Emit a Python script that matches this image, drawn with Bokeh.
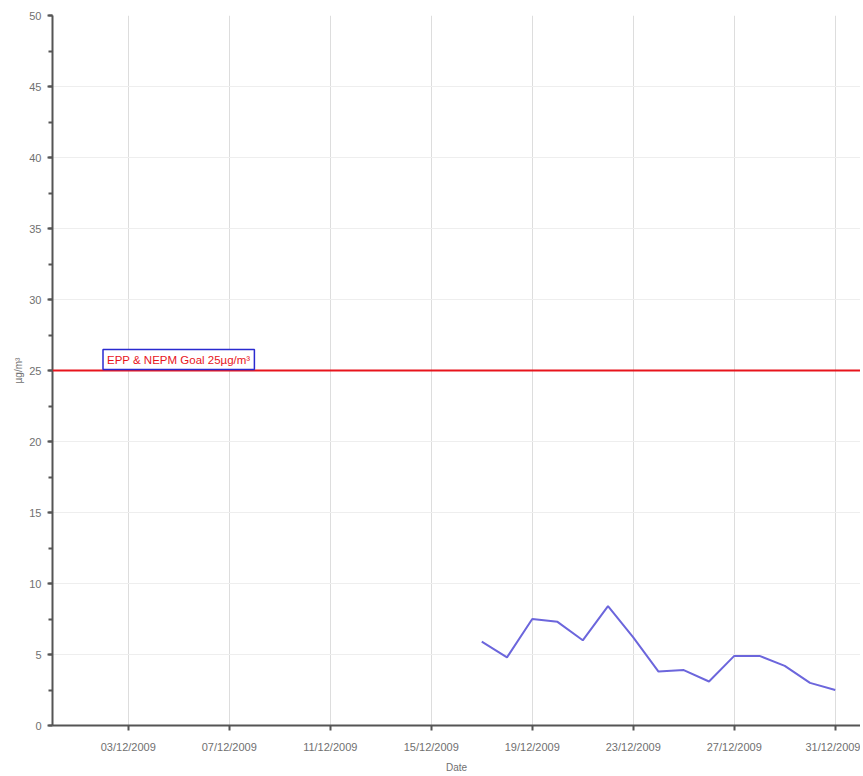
from datetime import datetime
from bokeh.plotting import figure
from bokeh.models import (Range1d, Span, Label, FixedTicker, DatetimeTickFormatter,
                          SingleIntervalTicker, ColumnDataSource)
from bokeh.embed import file_html
from bokeh.resources import INLINE

# ---- data ----
dates = [datetime(2009, 12, d) for d in range(17, 32)]
pm25 = [5.9, 4.8, 7.5, 7.3, 6.0, 8.4, 6.2, 3.8, 3.9, 3.1, 4.9, 4.9, 4.2, 3.0, 2.5]
goal_value = 25
goal_label = "EPP & NEPM Goal 25µg/m³"
x_label = "Date"
y_label = "µg/m³"
tick_dates = [datetime(2009, 12, d) for d in [3, 7, 11, 15, 19, 23, 27, 31]]
x_start = datetime(2009, 11, 30)
x_end = datetime(2010, 1, 1)

FONT = "Liberation Sans"
EPOCH = datetime(1970, 1, 1)


def to_ms(d):
    return (d - EPOCH).total_seconds() * 1000.0


p = figure(width=860, height=775, x_axis_type="datetime",
           x_range=Range1d(x_start, x_end), y_range=Range1d(0, 50),
           output_backend="svg", toolbar_location=None,
           min_border_left=52, min_border_top=15, min_border_right=0,
           min_border_bottom=48)
p.outline_line_color = None
p.background_fill_color = "white"

src = ColumnDataSource(dict(x=dates, y=pm25))
p.line("x", "y", source=src, line_color="#6c66dc", line_width=2)

p.add_layout(Span(location=goal_value, dimension="width",
                  line_color="#e8141c", line_width=2))
p.add_layout(Label(x=datetime(2009, 12, 2), y=goal_value, text=goal_label,
                   text_color="#e8141c", text_font=FONT, text_font_size="11.5px",
                   text_align="left", text_baseline="bottom",
                   border_line_color="#2a2ad0", border_line_width=1.5,
                   background_fill_color="white", padding=4, y_offset=1))

# x axis
p.xaxis.ticker = FixedTicker(ticks=[to_ms(d) for d in tick_dates])
p.xaxis.formatter = DatetimeTickFormatter(days="%d/%m/%Y", months="%d/%m/%Y")
p.xaxis.axis_label = x_label
# y axis
p.yaxis.ticker = SingleIntervalTicker(interval=5, num_minor_ticks=2)
p.yaxis.axis_label = y_label

for ax in (p.xaxis, p.yaxis):
    ax.axis_line_color = "#555555"
    ax.axis_line_width = 2
    ax.major_tick_line_color = "#555555"
    ax.major_tick_line_width = 2
    ax.major_tick_out = 5
    ax.major_tick_in = 0
    ax.minor_tick_line_color = "#555555"
    ax.minor_tick_line_width = 2
    ax.minor_tick_out = 4
    ax.minor_tick_in = 0
    ax.major_label_text_font = FONT
    ax.major_label_text_font_size = "11px"
    ax.major_label_text_color = "#707070"
    ax.axis_label_text_font = FONT
    ax.axis_label_text_font_size = "10px"
    ax.axis_label_text_font_style = "normal"
    ax.axis_label_text_color = "#707070"
p.xaxis.minor_tick_line_color = None
p.xaxis.major_label_standoff = 10
p.xaxis.axis_label_standoff = 6
p.yaxis.major_label_standoff = 6
p.yaxis.axis_label_standoff = 2

p.xgrid.grid_line_color = "#dddddd"
p.xgrid.grid_line_width = 1
p.ygrid.grid_line_color = "#eeeeee"
p.ygrid.grid_line_width = 1

open("out.html", "w").write(file_html(p, INLINE))
